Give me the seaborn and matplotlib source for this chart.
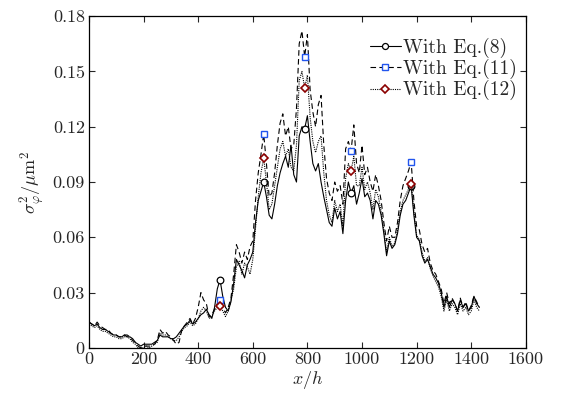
import numpy as np
import pandas as pd
import matplotlib
matplotlib.use("Agg")
import matplotlib.pyplot as plt
import seaborn as sns

# x positions (x/h), step 10
x = np.arange(0, 1440, 10)

eq8 = [0.014, 0.013, 0.012, 0.013, 0.011, 0.010, 0.010, 0.009, 0.008, 0.007,
       0.007, 0.006, 0.006, 0.007, 0.006, 0.006, 0.005, 0.003, 0.002, 0.001,
       0.002, 0.002, 0.002, 0.002, 0.003, 0.004, 0.007, 0.006, 0.006, 0.006,
       0.005, 0.005, 0.006, 0.008, 0.010, 0.012, 0.013, 0.015, 0.013, 0.014,
       0.016, 0.018, 0.019, 0.021, 0.018, 0.016, 0.022, 0.032, 0.037, 0.028,
       0.022, 0.020, 0.025, 0.035, 0.048, 0.045, 0.042, 0.038, 0.045, 0.048,
       0.052, 0.068, 0.080, 0.085, 0.090, 0.082, 0.072, 0.070, 0.078, 0.088,
       0.095, 0.100, 0.104, 0.098, 0.110, 0.094, 0.090, 0.115, 0.120, 0.119,
       0.126, 0.112, 0.100, 0.096, 0.100, 0.090, 0.082, 0.075, 0.068, 0.066,
       0.076, 0.070, 0.074, 0.062, 0.080, 0.090, 0.084, 0.088, 0.078, 0.084,
       0.092, 0.082, 0.084, 0.080, 0.070, 0.080, 0.078, 0.072, 0.062, 0.050,
       0.058, 0.054, 0.056, 0.062, 0.072, 0.078, 0.080, 0.084, 0.088, 0.072,
       0.060, 0.058, 0.050, 0.046, 0.048, 0.044, 0.040, 0.038, 0.035, 0.030,
       0.022, 0.028, 0.022, 0.026, 0.024, 0.020, 0.026, 0.022, 0.024, 0.020,
       0.022, 0.028, 0.024, 0.022]

eq11 = [0.014, 0.013, 0.012, 0.014, 0.012, 0.011, 0.010, 0.010, 0.008, 0.007,
        0.007, 0.006, 0.006, 0.007, 0.007, 0.006, 0.004, 0.003, 0.001, 0.000,
        0.001, 0.001, 0.001, 0.001, 0.002, 0.004, 0.010, 0.008, 0.009, 0.007,
        0.006, 0.004, 0.002, 0.003, 0.010, 0.012, 0.014, 0.016, 0.013, 0.016,
        0.022, 0.030, 0.026, 0.024, 0.017, 0.018, 0.021, 0.024, 0.026, 0.022,
        0.019, 0.022, 0.027, 0.040, 0.056, 0.052, 0.046, 0.052, 0.048, 0.055,
        0.058, 0.080, 0.095, 0.105, 0.116, 0.100, 0.082, 0.084, 0.095, 0.110,
        0.122, 0.127, 0.115, 0.120, 0.108, 0.110, 0.130, 0.165, 0.172, 0.158,
        0.170, 0.140, 0.128, 0.120, 0.132, 0.137, 0.110, 0.092, 0.084, 0.080,
        0.090, 0.085, 0.088, 0.078, 0.108, 0.112, 0.107, 0.121, 0.100, 0.095,
        0.110, 0.094, 0.098, 0.090, 0.085, 0.094, 0.088, 0.080, 0.068, 0.058,
        0.066, 0.060, 0.060, 0.068, 0.080, 0.088, 0.092, 0.096, 0.101, 0.080,
        0.066, 0.064, 0.056, 0.052, 0.054, 0.046, 0.042, 0.040, 0.036, 0.032,
        0.024, 0.030, 0.024, 0.027, 0.024, 0.020, 0.027, 0.022, 0.025, 0.020,
        0.023, 0.028, 0.025, 0.022]

eq12 = [0.013, 0.012, 0.011, 0.012, 0.010, 0.009, 0.009, 0.008, 0.007, 0.006,
        0.006, 0.005, 0.005, 0.006, 0.006, 0.005, 0.003, 0.002, 0.000, 0.000,
        0.000, 0.001, 0.000, 0.001, 0.002, 0.003, 0.008, 0.007, 0.007, 0.006,
        0.005, 0.004, 0.004, 0.006, 0.009, 0.011, 0.012, 0.014, 0.012, 0.013,
        0.016, 0.020, 0.022, 0.020, 0.016, 0.017, 0.020, 0.022, 0.023, 0.020,
        0.017, 0.020, 0.026, 0.032, 0.044, 0.047, 0.040, 0.046, 0.044, 0.040,
        0.048, 0.065, 0.082, 0.095, 0.103, 0.090, 0.075, 0.078, 0.088, 0.098,
        0.108, 0.112, 0.104, 0.108, 0.098, 0.096, 0.110, 0.145, 0.150, 0.141,
        0.148, 0.125, 0.112, 0.106, 0.112, 0.115, 0.095, 0.080, 0.072, 0.068,
        0.080, 0.074, 0.078, 0.066, 0.092, 0.100, 0.096, 0.104, 0.088, 0.088,
        0.098, 0.086, 0.090, 0.084, 0.075, 0.086, 0.082, 0.074, 0.064, 0.052,
        0.060, 0.055, 0.057, 0.064, 0.074, 0.080, 0.083, 0.086, 0.089, 0.074,
        0.061, 0.059, 0.052, 0.047, 0.049, 0.043, 0.039, 0.036, 0.033, 0.028,
        0.020, 0.026, 0.020, 0.024, 0.022, 0.018, 0.024, 0.020, 0.022, 0.018,
        0.020, 0.026, 0.022, 0.020]

# marker positions
mark_x = [480, 640, 790, 960, 1180]

xticks = [0, 200, 400, 600, 800, 1000, 1200, 1400, 1600]
yticks = [0, 0.03, 0.06, 0.09, 0.12, 0.15, 0.18]
ytick_labels = ["0", "0.03", "0.06", "0.09", "0.12", "0.15", "0.18"]

sns.set_style("ticks")
plt.rcParams["font.family"] = ["cmr10", "DejaVu Serif"]
plt.rcParams["mathtext.fontset"] = "cm"
plt.rcParams["axes.formatter.use_mathtext"] = True

fig = plt.figure(figsize=(5.63, 3.94), dpi=100)
ax = fig.add_axes([0.158, 0.117, 0.776, 0.842])

idx = [int(np.where(x == m)[0][0]) for m in mark_x]

sns.lineplot(x=x, y=eq8, ax=ax, color="black", linewidth=0.8, linestyle="-",
             marker="o", markersize=4.8, markerfacecolor="white",
             markeredgecolor="black", markeredgewidth=0.9, markevery=idx,
             label="With Eq.(8)")
sns.lineplot(x=x, y=eq11, ax=ax, color="black", linewidth=0.8, linestyle=(0, (5, 3)),
             marker="s", markersize=4.2, markerfacecolor="white",
             markeredgecolor="#2255ee", markeredgewidth=1.0, markevery=idx,
             label="With Eq.(11)")
sns.lineplot(x=x, y=eq12, ax=ax, color="black", linewidth=0.8, linestyle=(0, (1, 1)),
             marker="D", markersize=4.2, markerfacecolor="white",
             markeredgecolor="#8b0000", markeredgewidth=1.2, markevery=idx,
             label="With Eq.(12)")

ax.set_xlim(0, 1600)
ax.set_ylim(0, 0.18)
ax.set_xticks(xticks)
ax.set_xticklabels([str(t) for t in xticks])
ax.set_yticks(yticks)
ax.set_yticklabels(ytick_labels)
ax.tick_params(direction="in", top=True, right=True, labelsize=13, length=4,
               width=0.8, pad=3)
for s in ax.spines.values():
    s.set_visible(True)
    s.set_linewidth(0.9)
    s.set_color("black")

ax.set_xlabel(r"$x/h$", fontsize=13, labelpad=1)
ax.set_ylabel(r"$\sigma_{\varphi}^{2}/\mathrm{\mu m}^{2}$", fontsize=13, labelpad=4)

ax.legend(loc="upper right", frameon=False, fontsize=14, handlelength=1.6,
          handletextpad=0.1, labelspacing=0.05, borderaxespad=0.3,
          markerscale=0.9, bbox_to_anchor=(1.01, 0.975))

fig.savefig("out.png", dpi=100)
